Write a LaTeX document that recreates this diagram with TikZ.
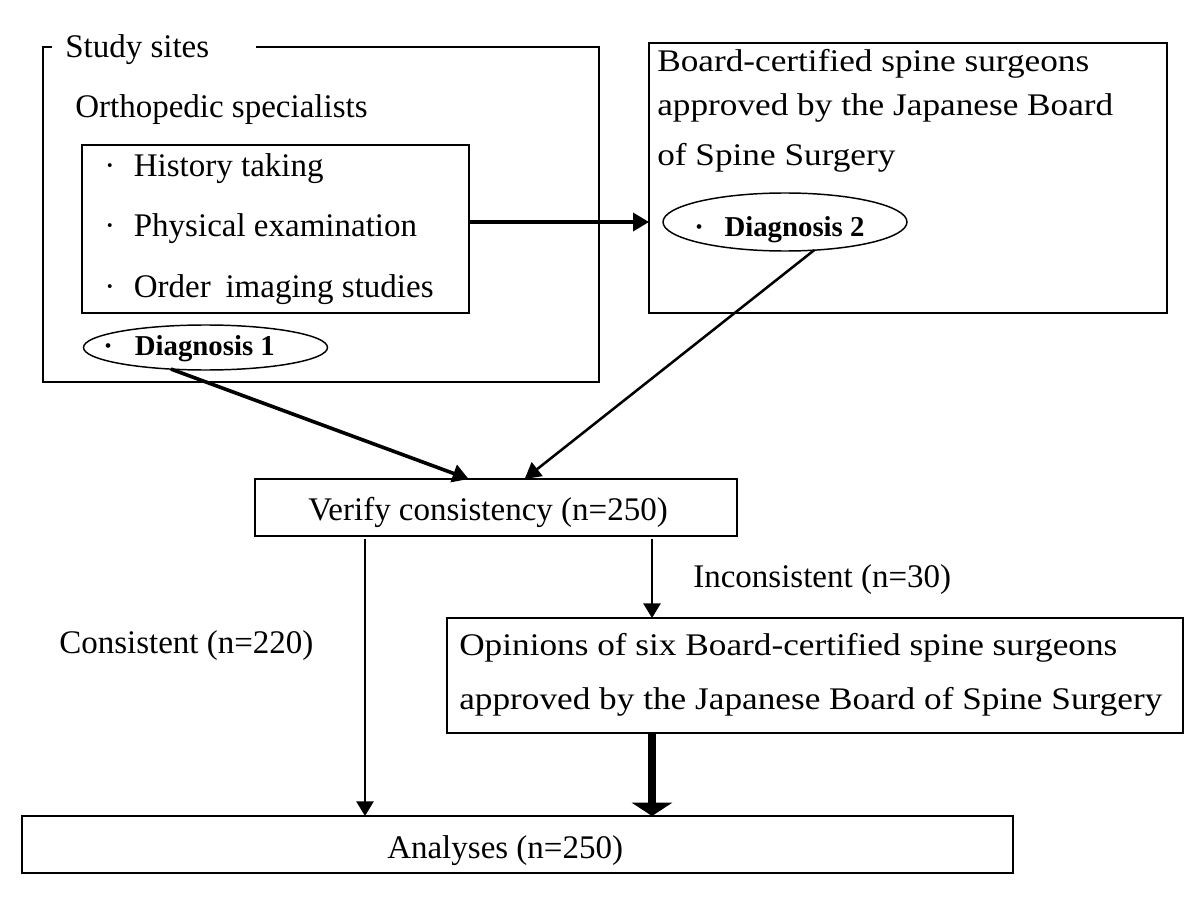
\documentclass[tikz,border=0pt]{standalone}
\usepackage{fontspec}
\setmainfont{Liberation Serif}
\newfontfamily\widefont[FakeStretch=1.12]{Liberation Serif}
\usetikzlibrary{arrows.meta,fit,shapes.geometric,calc}
\begin{document}
\begin{tikzpicture}[x=0.75pt,y=-0.75pt,
  boxline/.style={line width=1.5pt},
  frame/.style={draw,line width=1.5pt,inner sep=0pt,outer sep=0pt},
  area/.style={inner sep=0pt,outer sep=0pt},
  txt/.style={anchor=base west,inner sep=0pt,font=\fontsize{24.75pt}{30pt}\selectfont},
  widetxt/.style={anchor=base west,inner sep=0pt,font=\widefont\fontsize{23.6pt}{28pt}\selectfont},
  dtxt/.style={anchor=base west,inner sep=0pt,font=\fontsize{21.6pt}{26pt}\selectfont\bfseries},
  oval/.style={draw,ellipse,line width=1.1pt,inner sep=0pt,outer sep=0pt},
  thinarrow/.style={line width=1.3pt,-{Triangle[length=11pt,width=13pt]}},
  medarrow/.style={line width=1.9pt,-{Triangle[length=12pt,width=13pt]}},
  boldarrow/.style={line width=2.7pt,-{Triangle[length=12pt,width=13.5pt]}},
  heavyarrow/.style={line width=5.6pt,-{Triangle[length=10pt,width=30pt]}}
]
\useasboundingbox (0,0) rectangle (1200,920);

% Study sites area
\node[area,fit={(43,47) (599,382)}] (ss) {};
\draw[boxline] ([xshift=7pt]ss.north west) -- (ss.north west) -- (ss.south west)
  -- (ss.south east) -- (ss.north east) -- ([xshift=-257pt]ss.north east);
\node[txt] (sst) at (65,58) {Study sites};
\node[txt] (ortho) at (75,118) {Orthopedic specialists};

\node[frame,fit={(82,145) (469,313)}] (inner) {};
\node[txt] (h1) at (104,177) {·\hspace{14pt}History taking};
\node[txt] (h2) at (104,237) {·\hspace{14pt}Physical examination};
\node[txt] (h3) at (104,297) {·\hspace{14pt}Order\hspace{11pt}imaging studies};

\node[oval,minimum width=183pt,minimum height=33.75pt] (d1) at (205.5,347.5) {};
\node[dtxt] (d1t) at (103,355) {·\hspace{16.5pt}Diagnosis 1};

% Board-certified box
\node[frame,fit={(649,43) (1167,313)}] (rb) {};
\node[widetxt] (rb1) at (657,72) {Board-certified spine surgeons};
\node[widetxt] (rb2) at (657,116) {approved by the Japanese Board};
\node[widetxt] (rb3) at (657,166) {of Spine Surgery};

\node[oval,minimum width=183pt,minimum height=43.5pt] (d2) at (785,222) {};
\node[dtxt] (d2t) at (694,237) {·\hspace{15.5pt}Diagnosis 2};

% Verify box
\node[frame,fit={(255,479) (737,536)}] (v) {};
\node[txt] (vt) at (308,520) {Verify consistency (n=250)};

% Opinions box
\node[frame,fit={(447,618) (1183,733)}] (op) {};
\node[widetxt] (op1) at (459,655) {Opinions of six Board-certified spine surgeons};
\node[widetxt] (op2) at (459,709) {approved by the Japanese Board of Spine Surgery};

% Analyses box
\node[frame,fit={(22,816) (1013,873)}] (an) {};
\node[txt] (ant) at (387,858) {Analyses (n=250)};

% labels
\node[txt] (lc) at (59,653) {Consistent (n=220)};
\node[txt] (li) at (693,587) {Inconsistent (n=30)};

% connectors
\draw[boldarrow] (inner.east |- d2.west) -- (rb.west |- d2.west);
\draw[boldarrow] (d1.212) -- ([xshift=-20.5pt]v.north);
\draw[medarrow] (d2.316) -- ([xshift=21.5pt]v.north);
\coordinate (cs) at ([xshift=-98.25pt,yshift=-2pt]v.south);
\coordinate (ci) at ([xshift=117pt,yshift=-2pt]v.south);
\draw[thinarrow] (cs) -- (cs |- an.north);
\draw[thinarrow] (ci) -- (ci |- op.north);
\draw[heavyarrow] (ci |- op.south) -- (ci |- an.north);
\end{tikzpicture}
\end{document}
